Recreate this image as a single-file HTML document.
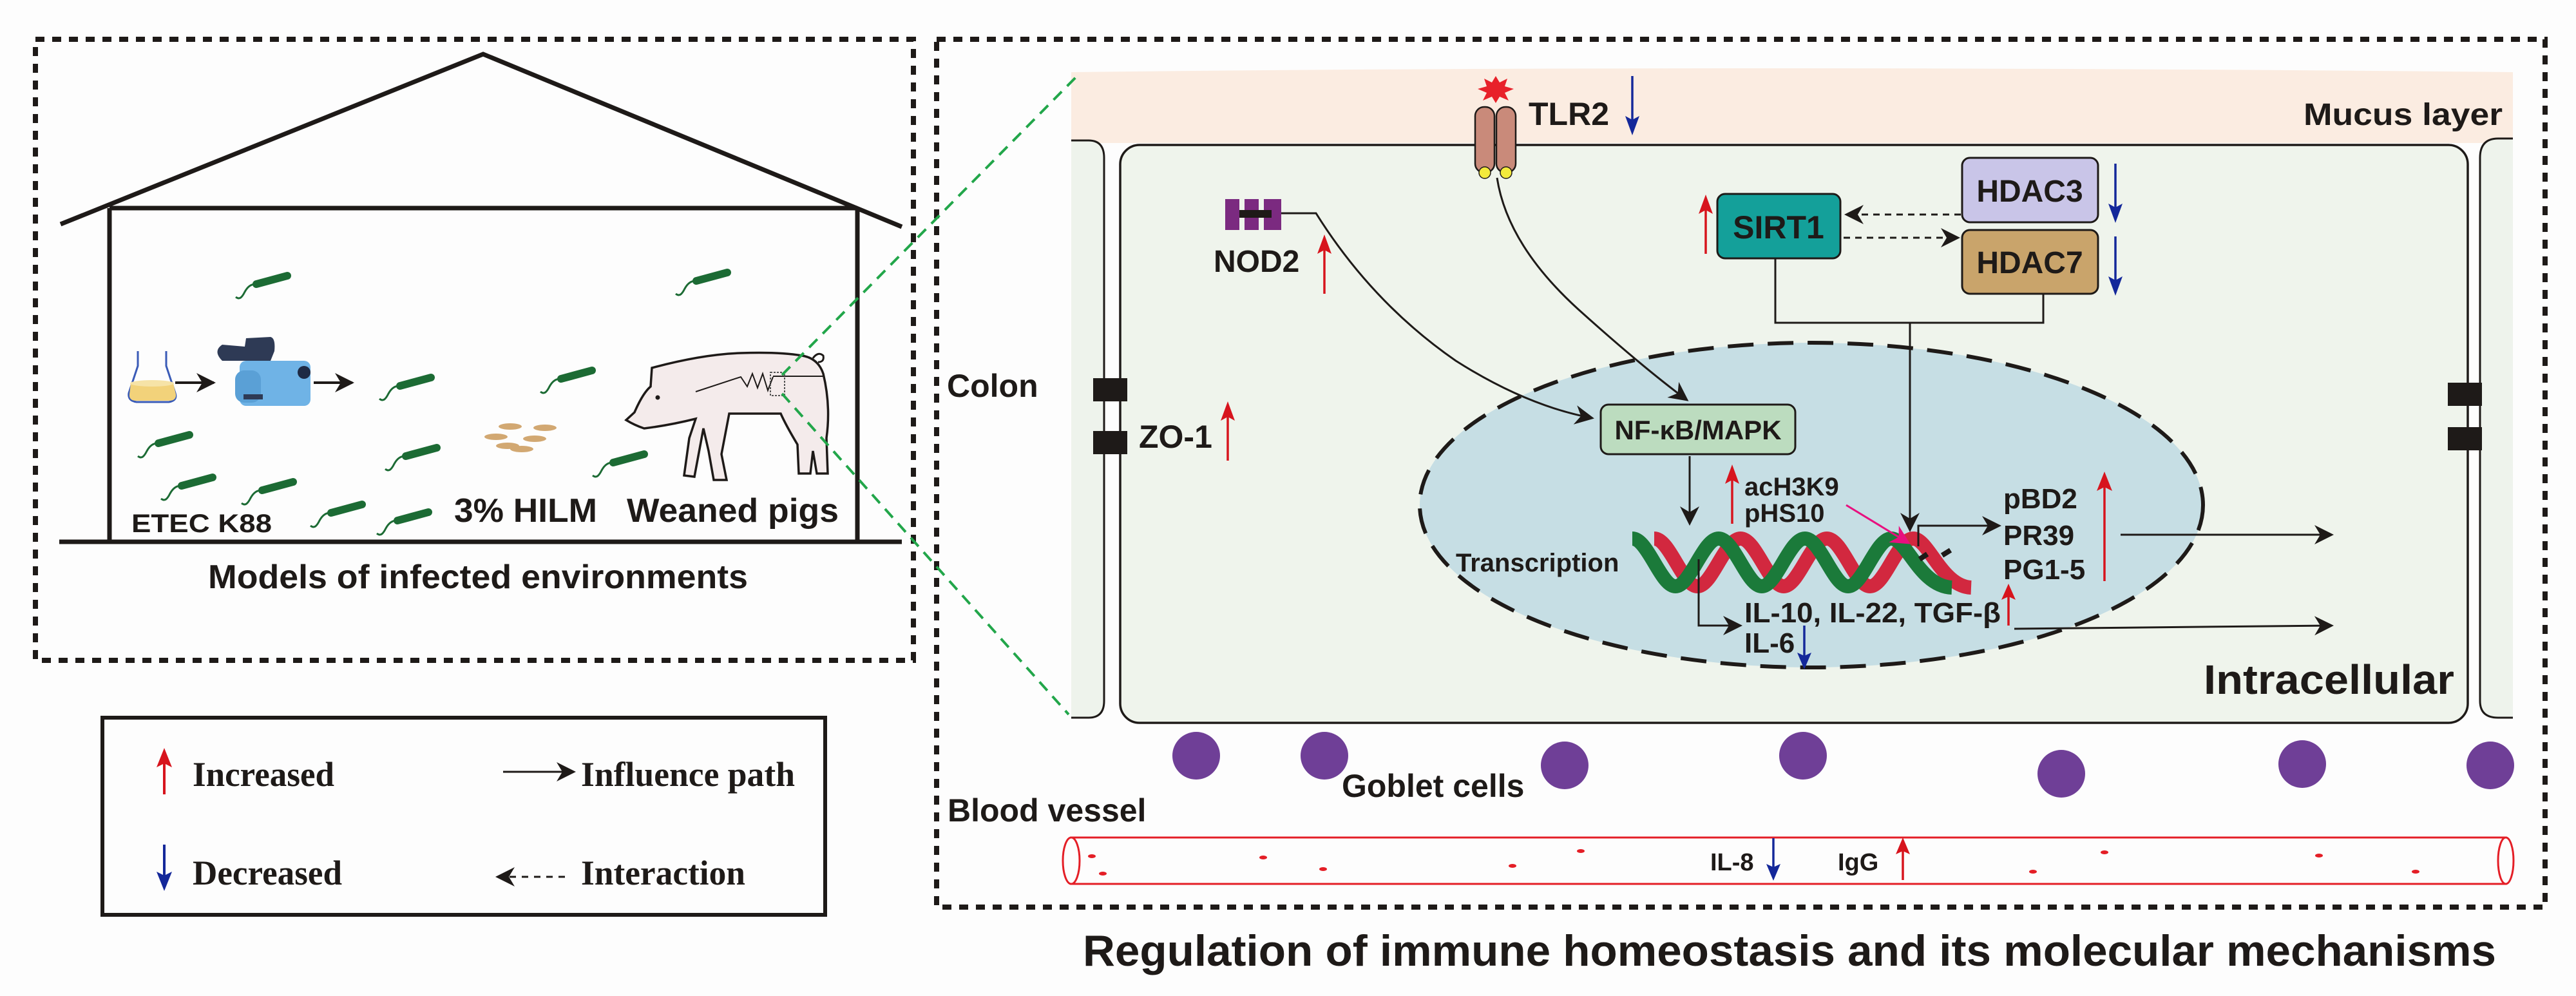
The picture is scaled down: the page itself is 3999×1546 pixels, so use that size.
<!DOCTYPE html>
<html><head><meta charset="utf-8"><style>
html,body{margin:0;padding:0;background:#fdfdfd;}
svg{display:block;}
text{font-family:"Liberation Sans",Arial,sans-serif;font-weight:bold;fill:#1e1a18;}
.serif{font-family:"Liberation Serif","Times New Roman",serif;}
</style></head><body>
<svg width="3999" height="1546" viewBox="0 0 3999 1546" xmlns="http://www.w3.org/2000/svg">
<defs>
<marker id="ah" viewBox="0 0 10 10" refX="9" refY="5" markerWidth="9" markerHeight="9" orient="auto-start-reverse" markerUnits="userSpaceOnUse">
<path d="M0,0 L10,5 L0,10 L3,5 z" fill="#1e1a18"/></marker>
<marker id="ahB" viewBox="0 0 10 10" refX="9" refY="5" markerWidth="36" markerHeight="30" orient="auto-start-reverse" markerUnits="userSpaceOnUse">
<path d="M0,0 L10,5 L0,10 L3,5 z" fill="#1e1a18"/></marker>
<marker id="ahP" viewBox="0 0 10 10" refX="9" refY="5" markerWidth="34" markerHeight="30" orient="auto" markerUnits="userSpaceOnUse">
<path d="M0,0 L10,5 L0,10 L3,5 z" fill="#e8107f"/></marker>
<g id="bac">
<path d="M0,0 c6,5 10,0 14,-8 c5,-9 10,-12 20,-13" fill="none" stroke="#1c6b34" stroke-width="3"/>
<path d="M32,-20 L80,-33" stroke="#1c6b34" stroke-width="12" stroke-linecap="round"/>
</g>
<g id="upR"><line x1="0" y1="0" x2="0" y2="-80" stroke="#d7141d" stroke-width="3.5"/><path d="M-11,-62 L0,-92 L11,-62 L0,-68z" fill="#d7141d"/></g>
<g id="dnB"><line x1="0" y1="0" x2="0" y2="80" stroke="#14289a" stroke-width="3.5"/><path d="M-11,62 L0,92 L11,62 L0,68z" fill="#14289a"/></g>
</defs>

<!-- LEFT PANEL -->
<rect x="55" y="61" width="1363" height="964" fill="none" stroke="#1e1a18" stroke-width="8" stroke-dasharray="14 12"/>
<polyline points="94,348 750,84 1400,352" fill="none" stroke="#1e1a18" stroke-width="7"/>
<line x1="170" y1="323" x2="1331" y2="323" stroke="#1e1a18" stroke-width="7"/>
<line x1="170" y1="323" x2="170" y2="841" stroke="#1e1a18" stroke-width="7"/>
<line x1="1331" y1="323" x2="1331" y2="841" stroke="#1e1a18" stroke-width="7"/>
<line x1="92" y1="841" x2="1400" y2="841" stroke="#1e1a18" stroke-width="7"/>

<!-- flask -->
<path d="M214,545 L214,568 L200,610 Q198,622 212,624 L262,624 Q276,622 272,610 L258,568 L258,545" fill="none" stroke="#3a5bb7" stroke-width="3"/>
<path d="M203,595 L269,595 L273,612 Q274,622 262,622 L212,622 Q200,622 201,612z" fill="#f2d27a"/>
<ellipse cx="236" cy="595" rx="34" ry="5" fill="#f6e3a7"/>
<line x1="272" y1="594" x2="332" y2="594" stroke="#1e1a18" stroke-width="4" marker-end="url(#ahB)"/>
<!-- fogger -->
<path d="M345,560 Q330,545 345,535 L380,538 L382,525 L420,523 Q428,525 426,545 L420,560 Z" fill="#2e3a55"/>
<rect x="372" y="560" width="110" height="70" rx="10" fill="#6fb3e6"/>
<rect x="365" y="575" width="40" height="50" rx="14" fill="#5aa0d6"/>
<circle cx="472" cy="578" r="10" fill="#1e2a44"/>
<rect x="378" y="612" width="30" height="8" fill="#2e3a55"/>
<line x1="487" y1="594" x2="547" y2="594" stroke="#1e1a18" stroke-width="4" marker-end="url(#ahB)"/>

<!-- bacteria -->
<use href="#bac" x="366" y="461"/>
<use href="#bac" x="589" y="619"/>
<use href="#bac" x="214" y="708"/>
<use href="#bac" x="598" y="728"/>
<use href="#bac" x="250" y="774"/>
<use href="#bac" x="375" y="781"/>
<use href="#bac" x="482" y="816"/>
<use href="#bac" x="585" y="828"/>
<use href="#bac" x="839" y="608"/>
<use href="#bac" x="920" y="738"/>
<use href="#bac" x="1049" y="456"/>
<!-- grains -->
<g fill="#d2a872">
<ellipse cx="792" cy="662" rx="18" ry="5"/><ellipse cx="846" cy="664" rx="18" ry="5"/>
<ellipse cx="770" cy="678" rx="18" ry="5"/><ellipse cx="830" cy="681" rx="18" ry="5"/>
<ellipse cx="788" cy="692" rx="18" ry="5"/><ellipse cx="810" cy="697" rx="18" ry="5"/>
</g>
<!-- pig -->
<path d="M1012,571 Q1090,550 1150,548 Q1210,546 1245,552 Q1270,556 1278,580 Q1290,630 1283,680 L1285,735 L1268,735 L1262,700 L1258,735 L1240,735 L1238,690 Q1220,660 1212,642 L1132,642 L1120,705 L1128,745 L1108,745 L1100,700 L1092,665 L1078,740 L1062,738 L1070,680 L1080,650 Q1040,660 1000,665 Q985,660 972,652 L985,640 Q998,610 1010,600 Z" fill="#f4ebeb" stroke="#1e1a18" stroke-width="3.5"/>
<circle cx="1021" cy="617" r="3.5" fill="#1e1a18"/>
<path d="M1080,608 Q1120,595 1150,585 L1160,600 L1168,580 L1176,602 L1184,580 L1192,606 L1200,585" fill="none" stroke="#1e1a18" stroke-width="2"/>
<path d="M1200,584 L1280,584" stroke="#1e1a18" stroke-width="2"/>
<path d="M1262,556 Q1270,545 1278,552 Q1280,562 1270,562" fill="none" stroke="#1e1a18" stroke-width="3"/>
<rect x="1196" y="578" width="22" height="36" fill="none" stroke="#555" stroke-width="2" stroke-dasharray="3 2"/>

<text x="204" y="826" font-size="40" textLength="218" lengthAdjust="spacingAndGlyphs">ETEC K88</text>
<text x="705" y="810" font-size="52" textLength="222" lengthAdjust="spacingAndGlyphs">3% HILM</text>
<text x="973" y="810" font-size="52" textLength="329" lengthAdjust="spacingAndGlyphs">Weaned pigs</text>
<text x="323" y="913" font-size="52" textLength="838" lengthAdjust="spacingAndGlyphs">Models of infected environments</text>

<!-- legend -->
<rect x="159" y="1114" width="1122" height="306" fill="none" stroke="#1e1a18" stroke-width="6"/>
<g transform="translate(255,1233)"><line x1="0" y1="0" x2="0" y2="-65" stroke="#d7141d" stroke-width="4"/><path d="M-12,-42 L0,-72 L12,-42 L0,-48z" fill="#d7141d"/></g>
<g transform="translate(255,1311)"><line x1="0" y1="0" x2="0" y2="65" stroke="#14289a" stroke-width="4"/><path d="M-12,42 L0,72 L12,42 L0,48z" fill="#14289a"/></g>
<text class="serif" x="299" y="1220" font-size="54" textLength="220" lengthAdjust="spacingAndGlyphs">Increased</text>
<text class="serif" x="299" y="1373" font-size="54" textLength="232" lengthAdjust="spacingAndGlyphs">Decreased</text>
<line x1="781" y1="1198" x2="891" y2="1198" stroke="#1e1a18" stroke-width="3" marker-end="url(#ahB)"/>
<text class="serif" x="902" y="1220" font-size="54" textLength="332" lengthAdjust="spacingAndGlyphs">Influence path</text>
<line x1="772" y1="1361" x2="884" y2="1361" stroke="#1e1a18" stroke-width="3" stroke-dasharray="10 9" marker-start="url(#ahB)"/>
<text class="serif" x="902" y="1373" font-size="54" textLength="255" lengthAdjust="spacingAndGlyphs">Interaction</text>

<!-- RIGHT PANEL -->
<rect x="1454" y="61" width="2497" height="1347" fill="none" stroke="#1e1a18" stroke-width="8" stroke-dasharray="14 12"/>
<path d="M1663,112 Q2700,100 3901,112 L3901,222 L1663,222 Z" fill="#fbece1"/>
<!-- left partial cell -->
<path d="M1663,218 L1690,218 Q1714,218 1714,245 L1714,1088 Q1714,1114 1690,1114 L1663,1114" fill="#eef3ec" stroke="#1e1a18" stroke-width="3"/>
<rect x="1739" y="225" width="2092" height="897" rx="30" fill="#eff4ec" stroke="#1e1a18" stroke-width="3.5"/>
<path d="M3901,215 L3878,215 Q3850,215 3850,245 L3850,1088 Q3850,1114 3878,1114 L3901,1114" fill="#eef3ec" stroke="#1e1a18" stroke-width="3"/>
<!-- zoom lines -->
<line x1="1214" y1="582" x2="1677" y2="113" stroke="#22a64a" stroke-width="4" stroke-dasharray="18 12"/>
<line x1="1214" y1="611" x2="1659" y2="1109" stroke="#22a64a" stroke-width="4" stroke-dasharray="18 12"/>
<!-- junctions -->
<rect x="1697" y="587" width="53" height="36" fill="#1e1a18"/>
<rect x="1697" y="669" width="53" height="36" fill="#1e1a18"/>
<rect x="3800" y="594" width="53" height="36" fill="#1e1a18"/>
<rect x="3800" y="663" width="53" height="36" fill="#1e1a18"/>
<text x="1470" y="616" font-size="50">Colon</text>
<text x="1768" y="695" font-size="50">ZO-1</text>
<use href="#upR" x="1906" y="715" transform="translate(0,0)"/>

<!-- nucleus -->
<ellipse cx="2812" cy="784" rx="608" ry="252" fill="#c6dee4" stroke="#1e1a18" stroke-width="6" stroke-dasharray="40 22"/>

<!-- NOD2 -->
<rect x="1902" y="309" width="22" height="48" fill="#7b2a80"/>
<rect x="1932" y="309" width="22" height="48" fill="#7b2a80"/>
<rect x="1962" y="309" width="27" height="48" fill="#7b2a80"/>
<rect x="1924" y="326" width="50" height="12" fill="#1e1a18"/>
<text x="1884" y="422" font-size="48">NOD2</text>
<use href="#upR" x="2056" y="456"/>
<path d="M1989,331 L2043,331 Q2130,470 2260,560 Q2370,630 2472,649" fill="none" stroke="#1e1a18" stroke-width="3" marker-end="url(#ahB)"/>

<!-- TLR2 -->
<rect x="2290" y="166" width="30" height="102" rx="14" fill="#c98a7a" stroke="#1e1a18" stroke-width="2.5"/>
<rect x="2323" y="166" width="30" height="102" rx="14" fill="#c98a7a" stroke="#1e1a18" stroke-width="2.5"/>
<circle cx="2305" cy="268" r="9" fill="#f3ea3c" stroke="#1e1a18" stroke-width="1.5"/>
<circle cx="2338" cy="268" r="9" fill="#f3ea3c" stroke="#1e1a18" stroke-width="1.5"/>
<polygon points="2322,118 2328,128 2340,122 2336,134 2350,138 2336,144 2342,156 2328,150 2322,160 2316,150 2302,156 2308,144 2294,138 2308,134 2304,122 2316,128" fill="#e8212a"/>
<text x="2373" y="194" font-size="50">TLR2</text>
<use href="#dnB" x="2534" y="118"/>
<path d="M2324,276 Q2340,380 2450,480 Q2550,570 2619,621" fill="none" stroke="#1e1a18" stroke-width="3" marker-end="url(#ahB)"/>

<!-- SIRT1 / HDAC -->
<use href="#upR" x="2648" y="394"/>
<rect x="2666" y="301" width="191" height="100" rx="12" fill="#14a09a" stroke="#1e1a18" stroke-width="3"/>
<text x="2761" y="370" font-size="50" text-anchor="middle">SIRT1</text>
<rect x="3046" y="245" width="211" height="100" rx="12" fill="#c9c5e8" stroke="#1e1a18" stroke-width="3"/>
<text x="3151" y="313" font-size="48" text-anchor="middle">HDAC3</text>
<rect x="3046" y="357" width="211" height="99" rx="12" fill="#c9a46b" stroke="#1e1a18" stroke-width="3"/>
<text x="3151" y="424" font-size="48" text-anchor="middle">HDAC7</text>
<use href="#dnB" x="3284" y="254"/>
<use href="#dnB" x="3284" y="367"/>
<line x1="3044" y1="333" x2="2866" y2="333" stroke="#1e1a18" stroke-width="3" stroke-dasharray="10 8" marker-end="url(#ahB)"/>
<line x1="2862" y1="369" x2="3040" y2="369" stroke="#1e1a18" stroke-width="3" stroke-dasharray="10 8" marker-end="url(#ahB)"/>
<polyline points="2756,401 2756,501 3172,501 3172,456" fill="none" stroke="#1e1a18" stroke-width="3"/>
<line x1="2965" y1="501" x2="2965" y2="823" stroke="#1e1a18" stroke-width="3" marker-end="url(#ahB)"/>

<!-- NF-kB -->
<rect x="2485" y="628" width="302" height="77" rx="12" fill="#bcdcbf" stroke="#1e1a18" stroke-width="3"/>
<text x="2636" y="682" font-size="42" text-anchor="middle">NF-κB/MAPK</text>
<line x1="2623" y1="708" x2="2623" y2="813" stroke="#1e1a18" stroke-width="3" marker-end="url(#ahB)"/>

<!-- DNA -->
<g fill="none" stroke-width="22">
<path d="M2568,836 C2592,836 2612,910 2635,910 C2658,910 2678,836 2702,836 C2726,836 2746,910 2769,910 C2792,910 2812,836 2836,836 C2860,836 2880,910 2903,910 C2926,910 2946,836 2970,836 C2994,836 3014,910 3060,912" stroke="#d2283f"/>
<path d="M2534,836 C2558,836 2578,910 2601,910 C2624,910 2644,836 2668,836 C2692,836 2712,910 2735,910 C2758,910 2778,836 2802,836 C2826,836 2846,910 2869,910 C2892,910 2912,836 2936,836 C2960,836 2980,910 3030,912" stroke="#1b7a3a"/>
</g>
<line x1="2980" y1="868" x2="2992" y2="860" stroke="#1e1a18" stroke-width="8"/>
<line x1="3015" y1="862" x2="3028" y2="854" stroke="#1e1a18" stroke-width="8"/>
<text x="2260" y="887" font-size="40">Transcription</text>
<use href="#upR" x="2689" y="813" transform="translate(0,0)"/>
<text x="2708" y="769" font-size="40">acH3K9</text>
<text x="2708" y="810" font-size="40">pHS10</text>
<line x1="2866" y1="784" x2="2963" y2="843" stroke="#e8107f" stroke-width="3" marker-end="url(#ahP)"/>
<polyline points="2978,848 2978,816 3104,816" fill="none" stroke="#1e1a18" stroke-width="3" marker-end="url(#ahB)"/>
<text x="3110" y="789" font-size="44">pBD2</text>
<text x="3110" y="846" font-size="44">PR39</text>
<text x="3110" y="899" font-size="44">PG1-5</text>
<g transform="translate(3267,902)"><line x1="0" y1="0" x2="0" y2="-160" stroke="#d7141d" stroke-width="3.5"/><path d="M-12,-140 L0,-170 L12,-140 L0,-146z" fill="#d7141d"/></g>
<line x1="3292" y1="830" x2="3620" y2="830" stroke="#1e1a18" stroke-width="3" marker-end="url(#ahB)"/>
<polyline points="2637,868 2637,971 2702,971" fill="none" stroke="#1e1a18" stroke-width="3" marker-end="url(#ahB)"/>
<text x="2708" y="966" font-size="44" textLength="398" lengthAdjust="spacingAndGlyphs">IL-10, IL-22, TGF-β</text>
<g transform="translate(3118,971)"><line x1="0" y1="0" x2="0" y2="-55" stroke="#d7141d" stroke-width="3.5"/><path d="M-11,-40 L0,-65 L11,-40 L0,-45z" fill="#d7141d"/></g>
<text x="2708" y="1013" font-size="44">IL-6</text>
<g transform="translate(2801,971)"><line x1="0" y1="0" x2="0" y2="55" stroke="#14289a" stroke-width="3.5"/><path d="M-11,42 L0,68 L11,42 L0,47z" fill="#14289a"/></g>
<line x1="3127" y1="976" x2="3620" y2="971" stroke="#1e1a18" stroke-width="3" marker-end="url(#ahB)"/>

<text x="3421" y="1077" font-size="64" textLength="389" lengthAdjust="spacingAndGlyphs">Intracellular</text>
<text x="3576" y="194" font-size="48" textLength="309" lengthAdjust="spacingAndGlyphs">Mucus layer</text>

<!-- goblet cells -->
<g fill="#6f3f97">
<ellipse cx="1857" cy="1173" rx="37" ry="37"/><ellipse cx="2056" cy="1173" rx="37" ry="37"/>
<ellipse cx="2429" cy="1188" rx="37" ry="37"/><ellipse cx="2799" cy="1173" rx="37" ry="37"/>
<ellipse cx="3200" cy="1201" rx="37" ry="37"/><ellipse cx="3574" cy="1186" rx="37" ry="37"/>
<ellipse cx="3866" cy="1188" rx="37" ry="37"/>
</g>
<text x="2083" y="1237" font-size="50">Goblet cells</text>
<text x="1471" y="1275" font-size="50">Blood vessel</text>

<!-- blood vessel -->
<rect x="1663" y="1300" width="2227" height="72" fill="#fdfdfd" stroke="#e41e26" stroke-width="3"/>
<ellipse cx="1663" cy="1336" rx="13" ry="36" fill="#fdfdfd" stroke="#e41e26" stroke-width="3"/>
<ellipse cx="3890" cy="1336" rx="12" ry="36" fill="#fdfdfd" stroke="#e41e26" stroke-width="3"/>
<g fill="#e41e26">
<ellipse cx="1695" cy="1329" rx="6" ry="3"/><ellipse cx="1712" cy="1356" rx="6" ry="3"/>
<ellipse cx="1961" cy="1331" rx="6" ry="3"/><ellipse cx="2054" cy="1349" rx="6" ry="3"/>
<ellipse cx="2348" cy="1344" rx="6" ry="3"/><ellipse cx="2454" cy="1321" rx="6" ry="3"/>
<ellipse cx="3156" cy="1353" rx="6" ry="3"/><ellipse cx="3267" cy="1323" rx="6" ry="3"/>
<ellipse cx="3600" cy="1328" rx="6" ry="3"/><ellipse cx="3750" cy="1353" rx="6" ry="3"/>
</g>
<text x="2655" y="1351" font-size="38">IL-8</text>
<g transform="translate(2753,1301)"><line x1="0" y1="0" x2="0" y2="55" stroke="#14289a" stroke-width="3.5"/><path d="M-11,40 L0,66 L11,40 L0,45z" fill="#14289a"/></g>
<text x="2853" y="1351" font-size="38">IgG</text>
<g transform="translate(2954,1366)"><line x1="0" y1="0" x2="0" y2="-55" stroke="#d7141d" stroke-width="3.5"/><path d="M-11,-40 L0,-66 L11,-40 L0,-45z" fill="#d7141d"/></g>

<text x="1681" y="1499" font-size="68" textLength="2194" lengthAdjust="spacingAndGlyphs">Regulation of immune homeostasis and its molecular mechanisms</text>
</svg>
</body></html>
